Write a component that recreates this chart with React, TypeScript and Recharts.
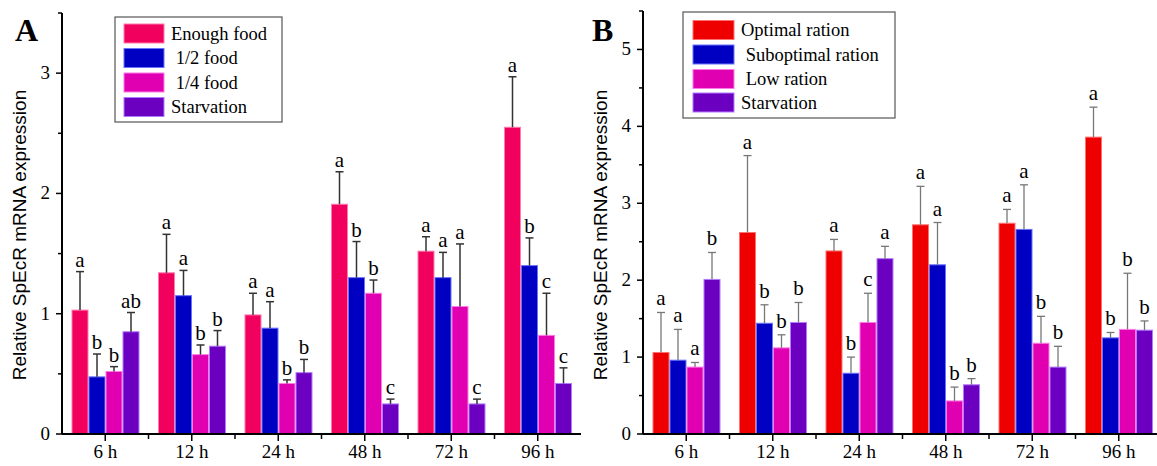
import React from 'react';
import { BarChart, Bar, XAxis, YAxis } from 'recharts';

const times = ['6 h', '12 h', '24 h', '48 h', '72 h', '96 h'];

// panel A
const enoughFood = [1.03, 1.34, 0.99, 1.91, 1.52, 2.55];
const enoughFoodErr = [0.32, 0.32, 0.18, 0.27, 0.12, 0.42];
const enoughFoodSig = ['a', 'a', 'a', 'a', 'a', 'a'];
const halfFood = [0.475, 1.15, 0.88, 1.3, 1.3, 1.4];
const halfFoodErr = [0.19, 0.21, 0.22, 0.3, 0.21, 0.23];
const halfFoodSig = ['b', 'a', 'a', 'b', 'a', 'b'];
const quarterFood = [0.52, 0.66, 0.42, 1.17, 1.06, 0.82];
const quarterFoodErr = [0.04, 0.08, 0.03, 0.11, 0.52, 0.35];
const quarterFoodSig = ['b', 'b', 'b', 'b', 'a', 'c'];
const starvA = [0.85, 0.73, 0.51, 0.25, 0.25, 0.42];
const starvAErr = [0.16, 0.13, 0.11, 0.04, 0.04, 0.13];
const starvASig = ['ab', 'b', 'b', 'c', 'c', 'c'];

// panel B
const optimal = [1.06, 2.62, 2.38, 2.72, 2.74, 3.86];
const optimalErr = [0.52, 1.0, 0.15, 0.5, 0.18, 0.39];
const optimalSig = ['a', 'a', 'a', 'a', 'a', 'a'];
const suboptimal = [0.96, 1.44, 0.79, 2.2, 2.66, 1.25];
const suboptimalErr = [0.4, 0.24, 0.21, 0.55, 0.58, 0.07];
const suboptimalSig = ['a', 'b', 'b', 'a', 'a', 'b'];
const lowRation = [0.87, 1.12, 1.45, 0.43, 1.18, 1.36];
const lowRationErr = [0.06, 0.17, 0.38, 0.18, 0.35, 0.73];
const lowRationSig = ['a', 'b', 'c', 'b', 'b', 'b'];
const starvB = [2.01, 1.45, 2.28, 0.64, 0.87, 1.35];
const starvBErr = [0.35, 0.26, 0.16, 0.08, 0.27, 0.12];
const starvBSig = ['b', 'b', 'a', 'b', 'b', 'b'];

const ticksA = [0, 0.5, 1, 1.5, 2, 2.5, 3, 3.5];
const ticksB = [0, 0.5, 1, 1.5, 2, 2.5, 3, 3.5, 4, 4.5, 5, 5.5];

const SERIF = '"Liberation Serif", "Times New Roman", serif';
const SANS = '"Liberation Sans", Arial, sans-serif';

const CHART_W = 600;
const CHART_H = 466;
const Y_AXIS_W = 62;
const X_AXIS_H = 32;
const RIGHT = 19;
const AXIS_Y = CHART_H - X_AXIS_H;
const BAND = (CHART_W - Y_AXIS_W - RIGHT) / times.length;

type Series = { key: string; name: string; fill: string; stroke: string; values: number[]; errs: number[]; sig: string[] };

const seriesA: Series[] = [
  { key: 'enough', name: 'Enough food', fill: '#F2005E', stroke: '#FF7AAE', values: enoughFood, errs: enoughFoodErr, sig: enoughFoodSig },
  { key: 'half', name: ' 1/2 food', fill: '#0000C2', stroke: '#6A72FF', values: halfFood, errs: halfFoodErr, sig: halfFoodSig },
  { key: 'quarter', name: ' 1/4 food', fill: '#E000B2', stroke: '#FF7AE6', values: quarterFood, errs: quarterFoodErr, sig: quarterFoodSig },
  { key: 'starv', name: 'Starvation', fill: '#6C00C0', stroke: '#B27AFF', values: starvA, errs: starvAErr, sig: starvASig },
];

const seriesB: Series[] = [
  { key: 'optimal', name: 'Optimal ration', fill: '#EE0000', stroke: '#FF7070', values: optimal, errs: optimalErr, sig: optimalSig },
  { key: 'sub', name: ' Suboptimal ration', fill: '#0000C2', stroke: '#6A72FF', values: suboptimal, errs: suboptimalErr, sig: suboptimalSig },
  { key: 'low', name: ' Low ration', fill: '#E000B2', stroke: '#FF7AE6', values: lowRation, errs: lowRationErr, sig: lowRationSig },
  { key: 'starv', name: 'Starvation', fill: '#6C00C0', stroke: '#B27AFF', values: starvB, errs: starvBErr, sig: starvBSig },
];

const buildRows = (series: Series[]) =>
  times.map((t, i) => {
    const row: any = { time: t };
    series.forEach((s) => {
      row[s.key] = s.values[i];
      row[s.key + 'Err'] = s.errs[i];
      row[s.key + 'Sig'] = s.sig[i];
    });
    return row;
  });

const makeShape = (key: string, errColor: string, errWidth: number, gap: number) => (props: any) => {
  const { x, y, width, height, fill, stroke, payload } = props;
  const v = payload[key];
  const perUnit = v ? height / v : 0;
  const top = y - payload[key + 'Err'] * perUnit;
  const cx = x + width / 2;
  return (
    <g>
      <rect x={x} y={y} width={width} height={height} fill={fill} stroke={stroke} strokeWidth={1} />
      <line x1={cx} x2={cx} y1={y} y2={top} stroke={errColor} strokeWidth={errWidth} />
      <line x1={cx - 4} x2={cx + 4} y1={top} y2={top} stroke={errColor} strokeWidth={errWidth} />
      <text x={cx} y={top - gap} textAnchor="middle" fontFamily={SERIF} fontSize={21} fill="#000">
        {payload[key + 'Sig']}
      </text>
    </g>
  );
};

const YTick = (props: any) => {
  const { y, payload } = props;
  const major = Number.isInteger(payload.value);
  return (
    <g>
      <line x1={Y_AXIS_W} x2={Y_AXIS_W - (major ? 6 : 4)} y1={y} y2={y} stroke="#000" strokeWidth={1.5} />
      {major && (
        <text x={Y_AXIS_W - 12} y={y} dy={6} textAnchor="end" fontFamily={SERIF} fontSize={19} fill="#000">
          {payload.value}
        </text>
      )}
    </g>
  );
};

const XTick = (props: any) => {
  const { x, payload } = props;
  const left = x - BAND / 2;
  return (
    <g>
      <line x1={x} x2={x} y1={AXIS_Y} y2={AXIS_Y + 7} stroke="#000" strokeWidth={1.5} />
      {payload.index > 0 && <line x1={left} x2={left} y1={AXIS_Y} y2={AXIS_Y + 5} stroke="#000" strokeWidth={1.5} />}
      <text x={x} y={AXIS_Y + 24} textAnchor="middle" fontFamily={SERIF} fontSize={19} fill="#000">
        {payload.value}
      </text>
    </g>
  );
};

const yLabel = () => (
  <text transform="translate(26,235) rotate(-90)" textAnchor="middle" fontFamily={SANS} fontSize={19} fill="#000">
    Relative SpEcR mRNA expression
  </text>
);

const Panel = ({ series, ticks, top, errColor, errWidth, gap }: { series: Series[]; ticks: number[]; top: number; errColor: string; errWidth: number; gap: number }) => (
  <BarChart
    width={CHART_W}
    height={CHART_H}
    data={buildRows(series)}
    margin={{ top, right: RIGHT, bottom: 0, left: 0 }}
    barCategoryGap="11%"
    barGap={1}
  >
    <XAxis
      dataKey="time"
      height={X_AXIS_H}
      tickLine={false}
      axisLine={{ stroke: '#000', strokeWidth: 2 }}
      tick={<XTick />}
      interval={0}
    />
    <YAxis
      width={Y_AXIS_W}
      domain={[0, ticks[ticks.length - 1]]}
      ticks={ticks}
      interval={0}
      tickLine={false}
      axisLine={{ stroke: '#000', strokeWidth: 2 }}
      tick={<YTick />}
      label={yLabel}
    />
    {series.map((s) => (
      <Bar
        key={s.key}
        dataKey={s.key}
        name={s.name}
        fill={s.fill}
        stroke={s.stroke}
        barSize={16}
        isAnimationActive={false}
        shape={makeShape(s.key, errColor, errWidth, gap)}
      />
    ))}
  </BarChart>
);

const LegendBox = ({ series, x, y, w, h, swX, swW, txtX, rowY }: any) => (
  <g>
    <rect x={x} y={y} width={w} height={h} fill="#fff" stroke="#555" strokeWidth={1.2} />
    {series.map((s: Series, i: number) => (
      <g key={s.key}>
        <rect x={swX} y={rowY[i] - 9.5} width={swW} height={19} fill={s.fill} stroke={s.stroke} strokeWidth={1} />
        <text x={txtX} y={rowY[i] + 6} fontFamily={SERIF} fontSize={18.5} fill="#000" style={{ whiteSpace: 'pre' }}>
          {s.name}
        </text>
      </g>
    ))}
  </g>
);

export default function App() {
  return (
    <div style={{ position: 'absolute', left: 0, top: 0, width: 1157, height: 466, overflow: 'hidden', background: '#fff' }}>
      <div style={{ position: 'absolute', left: 0, top: 0 }}>
        <Panel series={seriesA} ticks={ticksA} top={13} errColor="#333" errWidth={1.5} gap={5} />
      </div>
      <div style={{ position: 'absolute', left: 581, top: 0 }}>
        <Panel series={seriesB} ticks={ticksB} top={11} errColor="#777" errWidth={1.3} gap={7} />
      </div>
      <svg width={1157} height={466} style={{ position: 'absolute', left: 0, top: 0, pointerEvents: 'none' }}>
        <text x={15} y={41} fontFamily={SERIF} fontWeight="bold" fontSize={32} fill="#000">A</text>
        <text x={592} y={41} fontFamily={SERIF} fontWeight="bold" fontSize={32} fill="#000">B</text>
        <LegendBox series={seriesA} x={115} y={17} w={167} h={105} swX={124} swW={40} txtX={171} rowY={[33.5, 58, 82.5, 107]} />
        <LegendBox series={seriesB} x={683} y={12} w={212} h={106} swX={693} swW={41} txtX={741} rowY={[30, 54.5, 79, 102.5]} />
      </svg>
    </div>
  );
}
